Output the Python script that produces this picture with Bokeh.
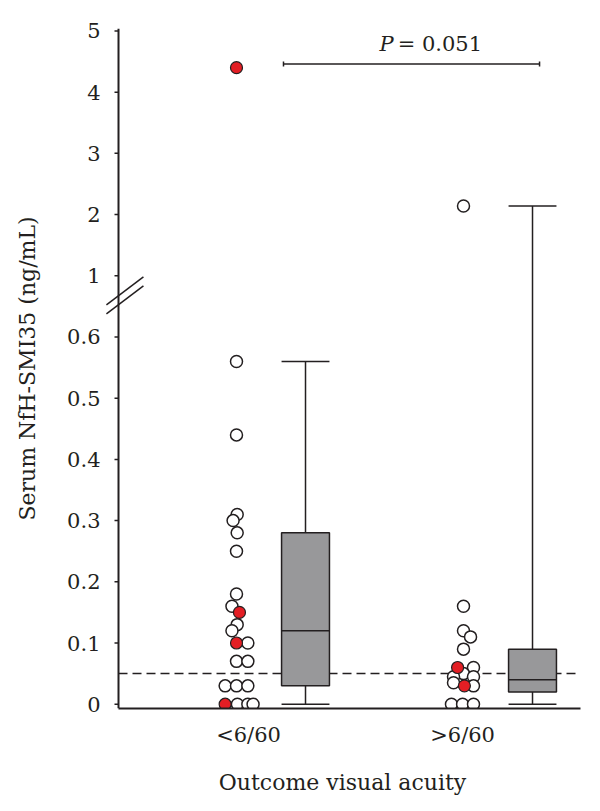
import numpy as np
from bokeh.plotting import figure
from bokeh.models import FixedTicker, Arrow, TeeHead, Label, ColumnDataSource
from bokeh.embed import file_html
from bokeh.resources import INLINE

# ---------------- data ----------------
groups = ["<6/60", ">6/60"]
group_pos = [1.0, 2.0]

# group <6/60 (individual patients), 1 = red marker
g1_values = [4.4, 0.56, 0.44, 0.31, 0.30, 0.28, 0.25, 0.18, 0.16, 0.15, 0.13, 0.12,
             0.10, 0.10, 0.07, 0.07, 0.03, 0.03, 0.03, 0.0, 0.0, 0.0, 0.0]
g1_red = [1, 0, 0, 0, 0, 0, 0, 0, 0, 1, 0, 0, 1, 0, 0, 0, 0, 0, 0, 1, 0, 0, 0]
g1_dx = [0, 0, 0, 0.003, -0.015, 0.003, 0, 0, -0.02, 0.013, 0.003, -0.02,
         0, 0.05, 0, 0.05, -0.05, 0, 0.05, -0.05, 0.004, 0.05, 0.073]

# group >6/60
g2_values = [2.14, 0.16, 0.12, 0.11, 0.09, 0.06, 0.06, 0.05, 0.045, 0.045, 0.03,
             0.035, 0.03, 0.0, 0.0, 0.0]
g2_red = [0, 0, 0, 0, 0, 1, 0, 0, 0, 0, 1, 0, 0, 0, 0, 0]
g2_dx = [0, 0, 0, 0.031, 0, -0.026, 0.044, 0, -0.044, 0.044, 0.004, -0.044,
         0.044, -0.053, -0.004, 0.044]

# box plot statistics
box_min = [0.0, 0.0]
box_q1 = [0.03, 0.02]
box_med = [0.12, 0.04]
box_q3 = [0.28, 0.09]
box_max = [0.56, 2.14]

threshold = 0.05
p_text_italic = "P"
p_text_rest = "= 0.051"

ytick_values = [0, 0.1, 0.2, 0.3, 0.4, 0.5, 0.6, 1, 2, 3, 4, 5]
ytick_labels = ["0", "0.1", "0.2", "0.3", "0.4", "0.5", "0.6", "1", "2", "3", "4", "5"]


# broken axis transform: 0..0.6 stretched x10, 1..5 shifted
def tr(v):
    v = np.asarray(v, dtype=float)
    return np.round(np.where(v <= 0.8, v * 10.0, v + 6.0), 6)


INK = "#231f20"
RED = "#e31e24"
GREY = "#98989a"
FONT = "DejaVu Serif"

XS, XE = 0.4185, 2.5154   # x range
YS, YE = -0.07, 11.04     # y range (transformed)
X0 = 0.4802               # where the y axis line sits
TICK = 4 / 227.0          # outward tick length in x units

p = figure(width=600, height=811, x_range=(XS, XE), y_range=(YS, YE),
           output_backend="svg", toolbar_location=None,
           min_border_left=104, min_border_right=20, min_border_top=28, min_border_bottom=103)
p.outline_line_color = None
p.xgrid.visible = False
p.ygrid.visible = False
p.background_fill_color = "white"

# threshold dashed line
p.segment(x0=[X0], y0=[float(tr(threshold))], x1=[XE], y1=[float(tr(threshold))],
          line_color=INK, line_width=1.5, line_dash="9 5")

# y axis line and ticks drawn inside the frame
yt_pos = [float(t) for t in tr(ytick_values)]
p.segment(x0=[X0], y0=[YS], x1=[X0], y1=[YE], line_color=INK, line_width=2)
p.segment(x0=[X0 - TICK] * len(yt_pos), y0=yt_pos, x1=[X0] * len(yt_pos), y1=yt_pos,
          line_color=INK, line_width=1.5)

# boxes
box_off = 0.304
box_w = 0.211
bx = [g + box_off for g in group_pos]
bsrc = ColumnDataSource(dict(
    x=bx, x0=[x - box_w / 2 for x in bx], x1=[x + box_w / 2 for x in bx],
    lo=tr(box_min), q1=tr(box_q1), med=tr(box_med), q3=tr(box_q3), hi=tr(box_max)))
p.segment(x0="x", y0="q3", x1="x", y1="hi", source=bsrc, line_color=INK, line_width=1.5)
p.segment(x0="x", y0="q1", x1="x", y1="lo", source=bsrc, line_color=INK, line_width=1.5)
p.segment(x0="x0", y0="hi", x1="x1", y1="hi", source=bsrc, line_color=INK, line_width=1.5)
p.segment(x0="x0", y0="lo", x1="x1", y1="lo", source=bsrc, line_color=INK, line_width=1.5)
p.vbar(x="x", width=box_w, bottom="q1", top="q3", source=bsrc, fill_color=GREY,
       line_color=INK, line_width=1.5)
p.segment(x0="x0", y0="med", x1="x1", y1="med", source=bsrc, line_color=INK, line_width=1.5)

# points
xs, ys, reds = [], [], []
for gp, vals, rd, dx in [(group_pos[0], g1_values, g1_red, g1_dx),
                         (group_pos[1], g2_values, g2_red, g2_dx)]:
    for v, r, d in zip(vals, rd, dx):
        xs.append(gp + d)
        ys.append(float(tr(v)))
        reds.append(r)
xs = np.array(xs); ys = np.array(ys); reds = np.array(reds)
w = reds == 0
p.scatter(xs[w], ys[w], size=12, fill_color="white", line_color=INK, line_width=1.5)
r = reds == 1
p.scatter(xs[r], ys[r], size=12, fill_color=RED, line_color=INK, line_width=1.2)

# significance bracket
yb = float(tr(4.46))
p.add_layout(Arrow(x_start=1.207, y_start=yb, x_end=2.335, y_end=yb, line_color=INK,
                   line_width=1.5,
                   start=TeeHead(size=5, line_width=1.5, line_color=INK),
                   end=TeeHead(size=5, line_width=1.5, line_color=INK)))
yt = float(tr(4.59))
p.add_layout(Label(x=1.692, y=yt, text=p_text_italic, text_font=FONT, text_font_size="21px",
                   text_font_style="italic", text_align="right", text_color=INK))
p.add_layout(Label(x=1.710, y=yt, text=p_text_rest, text_font=FONT, text_font_size="21px",
                   text_align="left", text_color=INK))

# axis break marks
for off in [0.0, 0.147]:
    p.add_layout(Arrow(x_start=0.427, y_start=6.524 - off, x_end=0.59, y_end=6.982 - off,
                       line_color=INK, line_width=1.5, end=None))

# axes
p.yaxis.ticker = FixedTicker(ticks=yt_pos)
p.yaxis.major_label_overrides = {t: l for t, l in zip(yt_pos, ytick_labels)}
p.xaxis.ticker = FixedTicker(ticks=[1.053, 1.996])
p.xaxis.major_label_overrides = {1.053: groups[0], 1.996: groups[1]}
p.xaxis.bounds = (X0, XE)

for ax in [p.xaxis[0], p.yaxis[0]]:
    ax.axis_line_color = INK
    ax.axis_line_width = 2
    ax.major_tick_line_color = INK
    ax.major_tick_line_width = 1.5
    ax.minor_tick_line_color = None
    ax.major_label_text_font = FONT
    ax.major_label_text_font_size = "21px"
    ax.major_label_text_color = INK
    ax.axis_label_text_font = FONT
    ax.axis_label_text_font_size = "22px"
    ax.axis_label_text_font_style = "normal"
    ax.axis_label_text_color = INK

p.yaxis.axis_line_color = None
p.yaxis.major_tick_line_color = None
p.yaxis.major_tick_out = 0
p.yaxis.major_tick_in = 0
p.yaxis.major_label_standoff = 4
p.yaxis.axis_label = "Serum NfH-SMI35 (ng/mL)"
p.yaxis.axis_label_standoff = 24

p.xaxis.major_tick_out = 0
p.xaxis.major_tick_in = 0
p.xaxis.major_label_standoff = 14
p.xaxis.axis_label = "Outcome visual acuity"
p.xaxis.axis_label_standoff = 20

open("out.html", "w").write(file_html(p, INLINE))
